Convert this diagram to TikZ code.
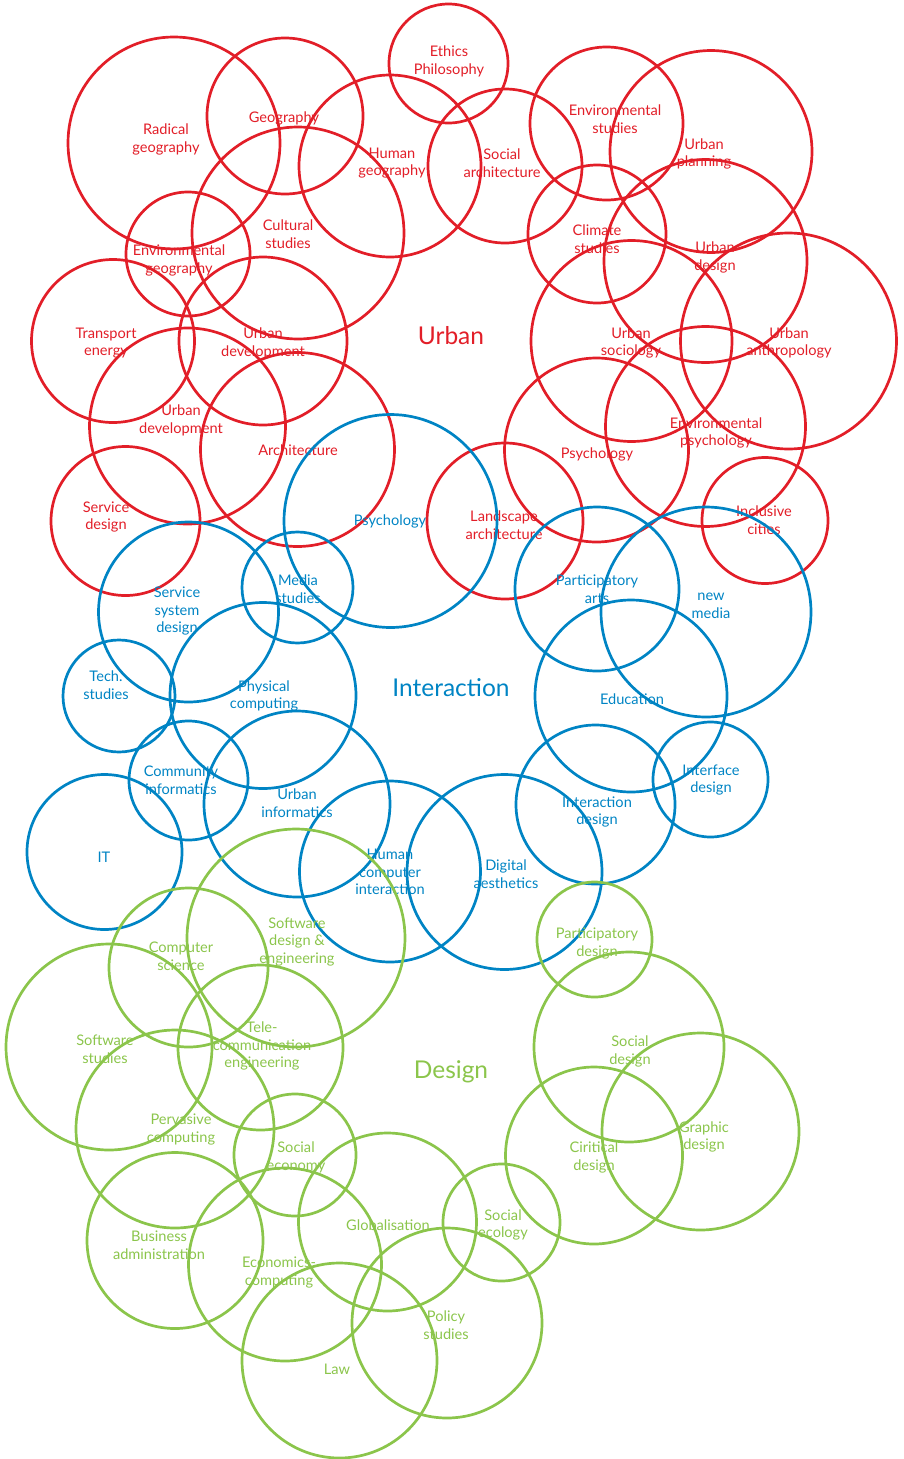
\documentclass[tikz,border=0pt]{standalone}
\usepackage{fontspec}
\setmainfont{Lato}
\usepackage{xcolor}
\usepackage{tikz}
\usetikzlibrary{positioning}

\definecolor{urbred}{RGB}{226,30,40}
\definecolor{intblue}{RGB}{0,132,196}
\definecolor{desgreen}{RGB}{139,197,75}

\begin{document}
\begin{tikzpicture}[x=1pt, y=-1pt,
        ring/.style={line width=2.7pt},
        urbring/.style={ring, draw=urbred},
        intring/.style={ring, draw=intblue},
        desring/.style={ring, draw=desgreen},
        lbl/.style={align=center, inner sep=0pt, yshift=-1.5pt, font=\fontsize{14.6}{17.8}\selectfont},
        urb/.style={lbl, text=urbred},
        int/.style={lbl, text=intblue},
        des/.style={lbl, text=desgreen},
        head/.style={inner sep=0pt, font=\fontsize{24.5}{28}\selectfont}]
        \useasboundingbox (0,0) rectangle (903,1459);

        % Urban
        \draw[urbring] (174,143) circle (106pt);
        \draw[urbring] (285,116) circle (78pt);
        \draw[urbring] (448.5,63.5) circle (59.5pt);
        \draw[urbring] (390,166) circle (91pt);
        \draw[urbring] (505,166) circle (77pt);
        \draw[urbring] (606.5,123.5) circle (76.5pt);
        \draw[urbring] (711,151.5) circle (101pt);
        \draw[urbring] (298,233) circle (106pt);
        \draw[urbring] (188,254) circle (62pt);
        \draw[urbring] (597,234) circle (69pt);
        \draw[urbring] (705.5,261) circle (101.5pt);
        \draw[urbring] (788.5,341) circle (108pt);
        \draw[urbring] (631.5,341) circle (100.5pt);
        \draw[urbring] (113,341) circle (81.5pt);
        \draw[urbring] (263,341) circle (84pt);
        \draw[urbring] (187.5,426) circle (98pt);
        \draw[urbring] (297.5,449.5) circle (97pt);
        \draw[urbring] (125.5,521) circle (74.5pt);
        \draw[urbring] (596.5,450) circle (92pt);
        \draw[urbring] (705.5,426.5) circle (100pt);
        \draw[urbring] (505,521) circle (78pt);
        \draw[urbring] (765,520.5) circle (63pt);

        \node[urb] (radgeo) at (166,138) {Radical\\geography};
        \node[urb] (geo) at (284,117) {Geography};
        \node[urb] (ethics) at (449,59.5) {Ethics\\Philosophy};
        \node[urb] (humgeo) at (392,161.5) {Human\\geography};
        \node[urb] (socarch) at (502,161.5) {Social\\architecture};
        \node[urb] (envstud) at (615,118) {Environmental\\studies};
        \node[urb] (urbplan) at (704,152.5) {Urban\\planning};
        \node[urb] (cult) at (288,232.5) {Cultural\\studies};
        \node[urb] (envgeo) at (179,259) {Environmental\\geography};
        \node[urb] (climate) at (597,237.5) {Climate\\studies};
        \node[urb] (urbdes) at (715,256) {Urban\\design};
        \node[urb] (urbsoc) at (631,341.5) {Urban\\sociology};
        \node[urb] (urbanth) at (789,341.5) {Urban\\anthropology};
        \node[urb] (transp) at (106,341.5) {Transport\\energy};
        \node[urb] (urbdev) at (263,341.5) {Urban\\development};
        \node[urb] (urbdevb) at (181,418.5) {Urban\\development};
        \node[urb] (arch) at (298,449) {Architecture};
        \node[urb] (servdes) at (106,515.5) {Service\\design};
        \node[urb] (psyred) at (597,453) {Psychology};
        \node[urb] (envpsy) at (716,431.5) {Environmental\\psychology};
        \node[urb] (landarch) at (504,523.5) {Landscape\\architecture};
        \node[urb] (inclus) at (764,518.5) {Inclusive\\cities};
        \node[head, text=urbred] (urban) at (451,336) {Urban};

        % Interaction
        \draw[intring] (390.5,521) circle (106.5pt);
        \draw[intring] (188.5,612) circle (90pt);
        \draw[intring] (297.5,587.5) circle (55.5pt);
        \draw[intring] (597,589) circle (82pt);
        \draw[intring] (706,612) circle (105pt);
        \draw[intring] (119,696) circle (56pt);
        \draw[intring] (263,695.5) circle (93pt);
        \draw[intring] (631,696) circle (96pt);
        \draw[intring] (188.5,780.5) circle (59.5pt);
        \draw[intring] (297,804) circle (93pt);
        \draw[intring] (710.5,779.5) circle (57.5pt);
        \draw[intring] (595.5,804.5) circle (79.5pt);
        \draw[intring] (104.5,852) circle (77.5pt);
        \draw[intring] (390,871.5) circle (90.5pt);
        \draw[intring] (504.5,872) circle (97.5pt);

        \node[int] (psyblue) at (390,520) {Psychology};
        \node[int] (servsys) at (177,609.5) {Service\\system\\design};
        \node[int] (media) at (298,587.5) {Media\\studies};
        \node[int] (partarts) at (597,588) {Participatory\\arts};
        \node[int] (newmedia) at (711,604) {new\\media};
        \node[int] (tech) at (106,683.5) {Tech.\\studies};
        \node[int] (phys) at (264,694.5) {Physical\\computing};
        \node[int] (edu) at (632,698) {Education};
        \node[int] (commun) at (181,778.5) {Community\\informatics};
        \node[int] (urbinf) at (297,802) {Urban\\informatics};
        \node[int] (interf) at (711,778.5) {Interface\\design};
        \node[int] (interdes) at (597,810.5) {Interaction\\design};
        \node[int] (it) at (104,856) {IT};
        \node[int] (hci) at (390,870.5) {Human\\computer\\interaction};
        \node[int] (digaes) at (506,873) {Digital\\aesthetics};
        \node[head, text=intblue] (interaction) at (451,688) {Interaction};

        % Design
        \draw[desring] (296,938) circle (109pt);
        \draw[desring] (188.5,967.5) circle (79.5pt);
        \draw[desring] (594.5,939.5) circle (57.5pt);
        \draw[desring] (260.5,1047.5) circle (82.5pt);
        \draw[desring] (109,1047) circle (103pt);
        \draw[desring] (629,1047) circle (95pt);
        \draw[desring] (175,1129) circle (99pt);
        \draw[desring] (295,1155) circle (61pt);
        \draw[desring] (700.5,1131.5) circle (98.5pt);
        \draw[desring] (594,1155.5) circle (88.5pt);
        \draw[desring] (175,1240.5) circle (88pt);
        \draw[desring] (387.5,1222) circle (89pt);
        \draw[desring] (501.5,1222.5) circle (58.5pt);
        \draw[desring] (285,1264.5) circle (96.5pt);
        \draw[desring] (447,1323) circle (95pt);
        \draw[desring] (339.5,1360.5) circle (97.5pt);

        \node[des] (softeng) at (297,940.5) {Software\\design \&\\engineering};
        \node[des] (compsci) at (181,955) {Computer\\science};
        \node[des] (partdes) at (597,942) {Participatory\\design};
        \node[des] (telecom) at (262,1044.5) {Tele-\\communication\\engineering};
        \node[des] (softstud) at (105,1048) {Software\\studies};
        \node[des] (socdes) at (630,1050) {Social\\design};
        \node[des] (perv) at (181,1128) {Pervasive\\computing};
        \node[des] (soceco) at (296,1156) {Social\\economy};
        \node[des] (graph) at (704,1135.5) {Graphic\\design};
        \node[des] (crit) at (594,1156) {Ciritical\\design};
        \node[des] (busadm) at (159,1243.5) {Business\\administration};
        \node[des] (glob) at (388,1224) {Globalisation};
        \node[des] (socecol) at (503,1223.5) {Social\\ecology};
        \node[des] (econ) at (279,1271) {Economics-\\computing};
        \node[des] (policy) at (446,1324) {Policy\\studies};
        \node[des] (law) at (337,1368) {Law};
        \node[head, text=desgreen] (design) at (451,1072) {Design};
\end{tikzpicture}
\end{document}
